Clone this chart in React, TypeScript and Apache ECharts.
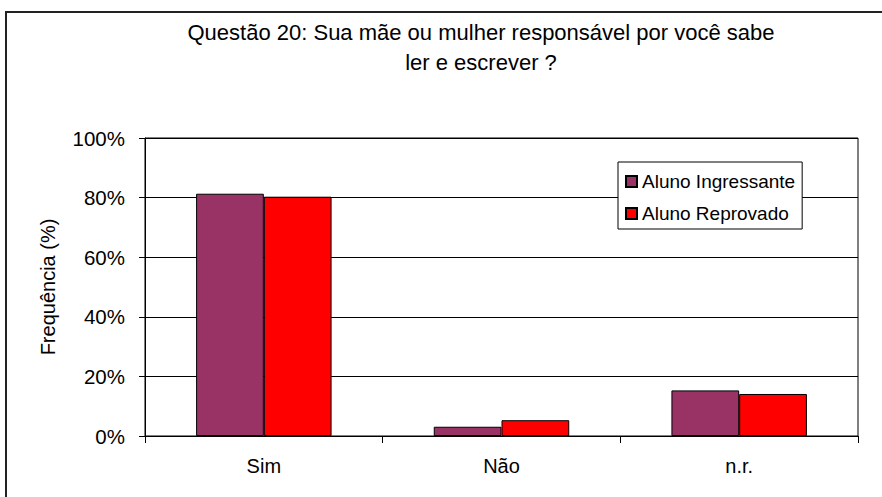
import React, { useEffect, useRef } from "react";
import * as echarts from "echarts";

const categories = ["Sim", "Não", "n.r."];
const ingressante = [81.3, 3.1, 15.3];
const reprovado = [80.3, 5.3, 14.1];
const yTicks = [0, 20, 40, 60, 80, 100];
const titleLines = [
  "Questão 20: Sua mãe ou mulher responsável por você sabe",
  "ler e escrever ?",
];
const seriesNames = ["Aluno Ingressante", "Aluno Reprovado"];

const FONT = "'Liberation Sans', Arial, sans-serif";

export default function App() {
  const ref = useRef<HTMLDivElement>(null);
  useEffect(() => {
    if (!ref.current) return;
    const chart = echarts.init(ref.current, undefined, { renderer: "svg" });
    chart.setOption({
      animation: false,
      backgroundColor: "#fff",
      textStyle: { fontFamily: FONT, color: "#000" },
      title: {
        text: titleLines.join("\n"),
        left: 476,
        top: 12,
        textAlign: "center",
        textStyle: {
          fontFamily: FONT,
          fontSize: 22,
          fontWeight: "normal",
          color: "#000",
          lineHeight: 30,
        },
      },
      graphic: [
        {
          type: "rect",
          shape: { x: 6, y: 12, width: 900, height: 600 },
          style: { fill: "none", stroke: "#222", lineWidth: 2 },
          silent: true,
          z: 100,
        },
      ],
      legend: {
        orient: "vertical",
        left: 618,
        top: 162,
        padding: [10, 7, 6, 7],
        itemGap: 13,
        itemWidth: 11,
        itemHeight: 11,
        itemTextGap: 7,
        icon: "rect",
        backgroundColor: "#fff",
        borderColor: "#000",
        borderWidth: 1,
        textStyle: { fontFamily: FONT, fontSize: 19, color: "#000", lineHeight: 19 },
        data: seriesNames,
        z: 10,
      },
      grid: {
        left: 145,
        right: 24,
        top: 138,
        bottom: 61,
        show: true,
        borderColor: "#000",
        borderWidth: 1,
      },
      xAxis: {
        type: "category",
        data: categories,
        axisLine: { lineStyle: { color: "#000", width: 1 } },
        axisTick: { show: true, length: 7, lineStyle: { color: "#000" } },
        axisLabel: { fontFamily: FONT, fontSize: 20, color: "#000", margin: 20 },
      },
      yAxis: {
        type: "value",
        min: 0,
        max: 100,
        interval: 20,
        name: "Frequência (%)",
        nameLocation: "middle",
        nameRotate: 90,
        nameGap: 87,
        nameTextStyle: { fontFamily: FONT, fontSize: 20, color: "#000" },
        axisLine: { show: true, lineStyle: { color: "#000", width: 1 } },
        axisTick: { show: true, length: 6, lineStyle: { color: "#000" } },
        splitLine: { show: true, lineStyle: { color: "#000", width: 1 } },
        axisLabel: {
          fontFamily: FONT,
          fontSize: 20.5,
          color: "#000",
          margin: 20,
          formatter: (v: number) => (yTicks.includes(v) ? v + "%" : ""),
        },
      },
      series: [
        {
          name: seriesNames[0],
          type: "bar",
          data: ingressante,
          barGap: "0%",
          barCategoryGap: "43%",
          itemStyle: { color: "#993366", borderColor: "#000", borderWidth: 1 },
        },
        {
          name: seriesNames[1],
          type: "bar",
          data: reprovado,
          barGap: "0%",
          barCategoryGap: "43%",
          itemStyle: { color: "#FF0000", borderColor: "#000", borderWidth: 1 },
        },
      ],
    });
    return () => chart.dispose();
  }, []);
  return (
    <div
      ref={ref}
      style={{ position: "fixed", left: 0, top: 0, width: 882, height: 497 }}
    />
  );
}
